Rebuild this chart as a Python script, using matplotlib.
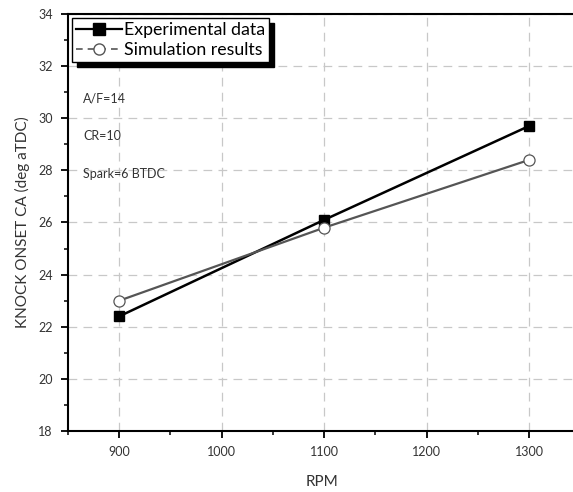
import matplotlib.pyplot as plt
from matplotlib.lines import Line2D
from matplotlib.ticker import MultipleLocator

plt.rcParams['font.family'] = ['Lato', 'DejaVu Sans']

# knock onset crank angle vs engine speed
rpm = [900, 1100, 1300]
exp_onset = [22.4, 26.1, 29.7]
sim_onset = [23.0, 25.8, 28.4]
notes = ['A/F=14', 'CR=10', 'Spark=6 BTDC']

fig = plt.figure(figsize=(5.73, 4.92), dpi=100)
ax = fig.add_axes([0.1187, 0.124, 0.885, 0.8476])

ax.plot(rpm, exp_onset, color='black', lw=1.8, marker='s', ms=7,
        mfc='black', mec='black', zorder=3)
ax.plot(rpm, sim_onset, color='#555555', lw=1.6, marker='o', ms=8,
        mfc='white', mec='#555555', mew=0.9, zorder=3)

ax.set_xlim(850, 1345)
ax.set_ylim(18, 34)
ax.xaxis.set_major_locator(MultipleLocator(100))
ax.xaxis.set_minor_locator(MultipleLocator(50))
ax.yaxis.set_major_locator(MultipleLocator(2))
ax.yaxis.set_minor_locator(MultipleLocator(1))
ax.grid(True, which='major', color='#c8c8c8', ls=(0, (7, 5)), lw=0.9)
ax.set_axisbelow(True)

for s in ax.spines.values():
    s.set_linewidth(1.5)
ax.tick_params(which='major', direction='out', length=5, width=1.3,
               labelsize=9, colors='black', pad=6)
ax.tick_params(which='minor', direction='out', length=3, width=1.1)
for lab in ax.get_xticklabels() + ax.get_yticklabels():
    lab.set_color('#333333')

ax.set_xlabel('RPM', fontsize=11, color='#333333', labelpad=12)
ax.set_ylabel('KNOCK ONSET CA (deg aTDC)', fontsize=11, color='#333333',
              labelpad=6)

for i, t in enumerate(notes):
    ax.text(0.03, 0.798 - i * 0.0905, t, transform=ax.transAxes,
            fontsize=9, color='#333333', va='center')

handles = [
    Line2D([], [], color='black', lw=1.6, marker='s', ms=8, mfc='black'),
    Line2D([], [], color='#555555', lw=1.2, ls=(0, (4, 3)), marker='o',
           ms=8, mfc='white', mec='#555555'),
]
leg = ax.legend(handles, ['Experimental data', 'Simulation results'],
                loc='upper left', bbox_to_anchor=(0.0, 1.0),
                fontsize=12.8, frameon=True, fancybox=False,
                edgecolor='black', handlelength=2.6, handletextpad=0.1,
                borderpad=0.2, labelspacing=0.25, borderaxespad=0.25,
                shadow={'color': 'black', 'alpha': 1, 'ox': 3.5, 'oy': -3.5})
leg.get_frame().set_linewidth(1.0)

fig.savefig('out.png', dpi=100)
